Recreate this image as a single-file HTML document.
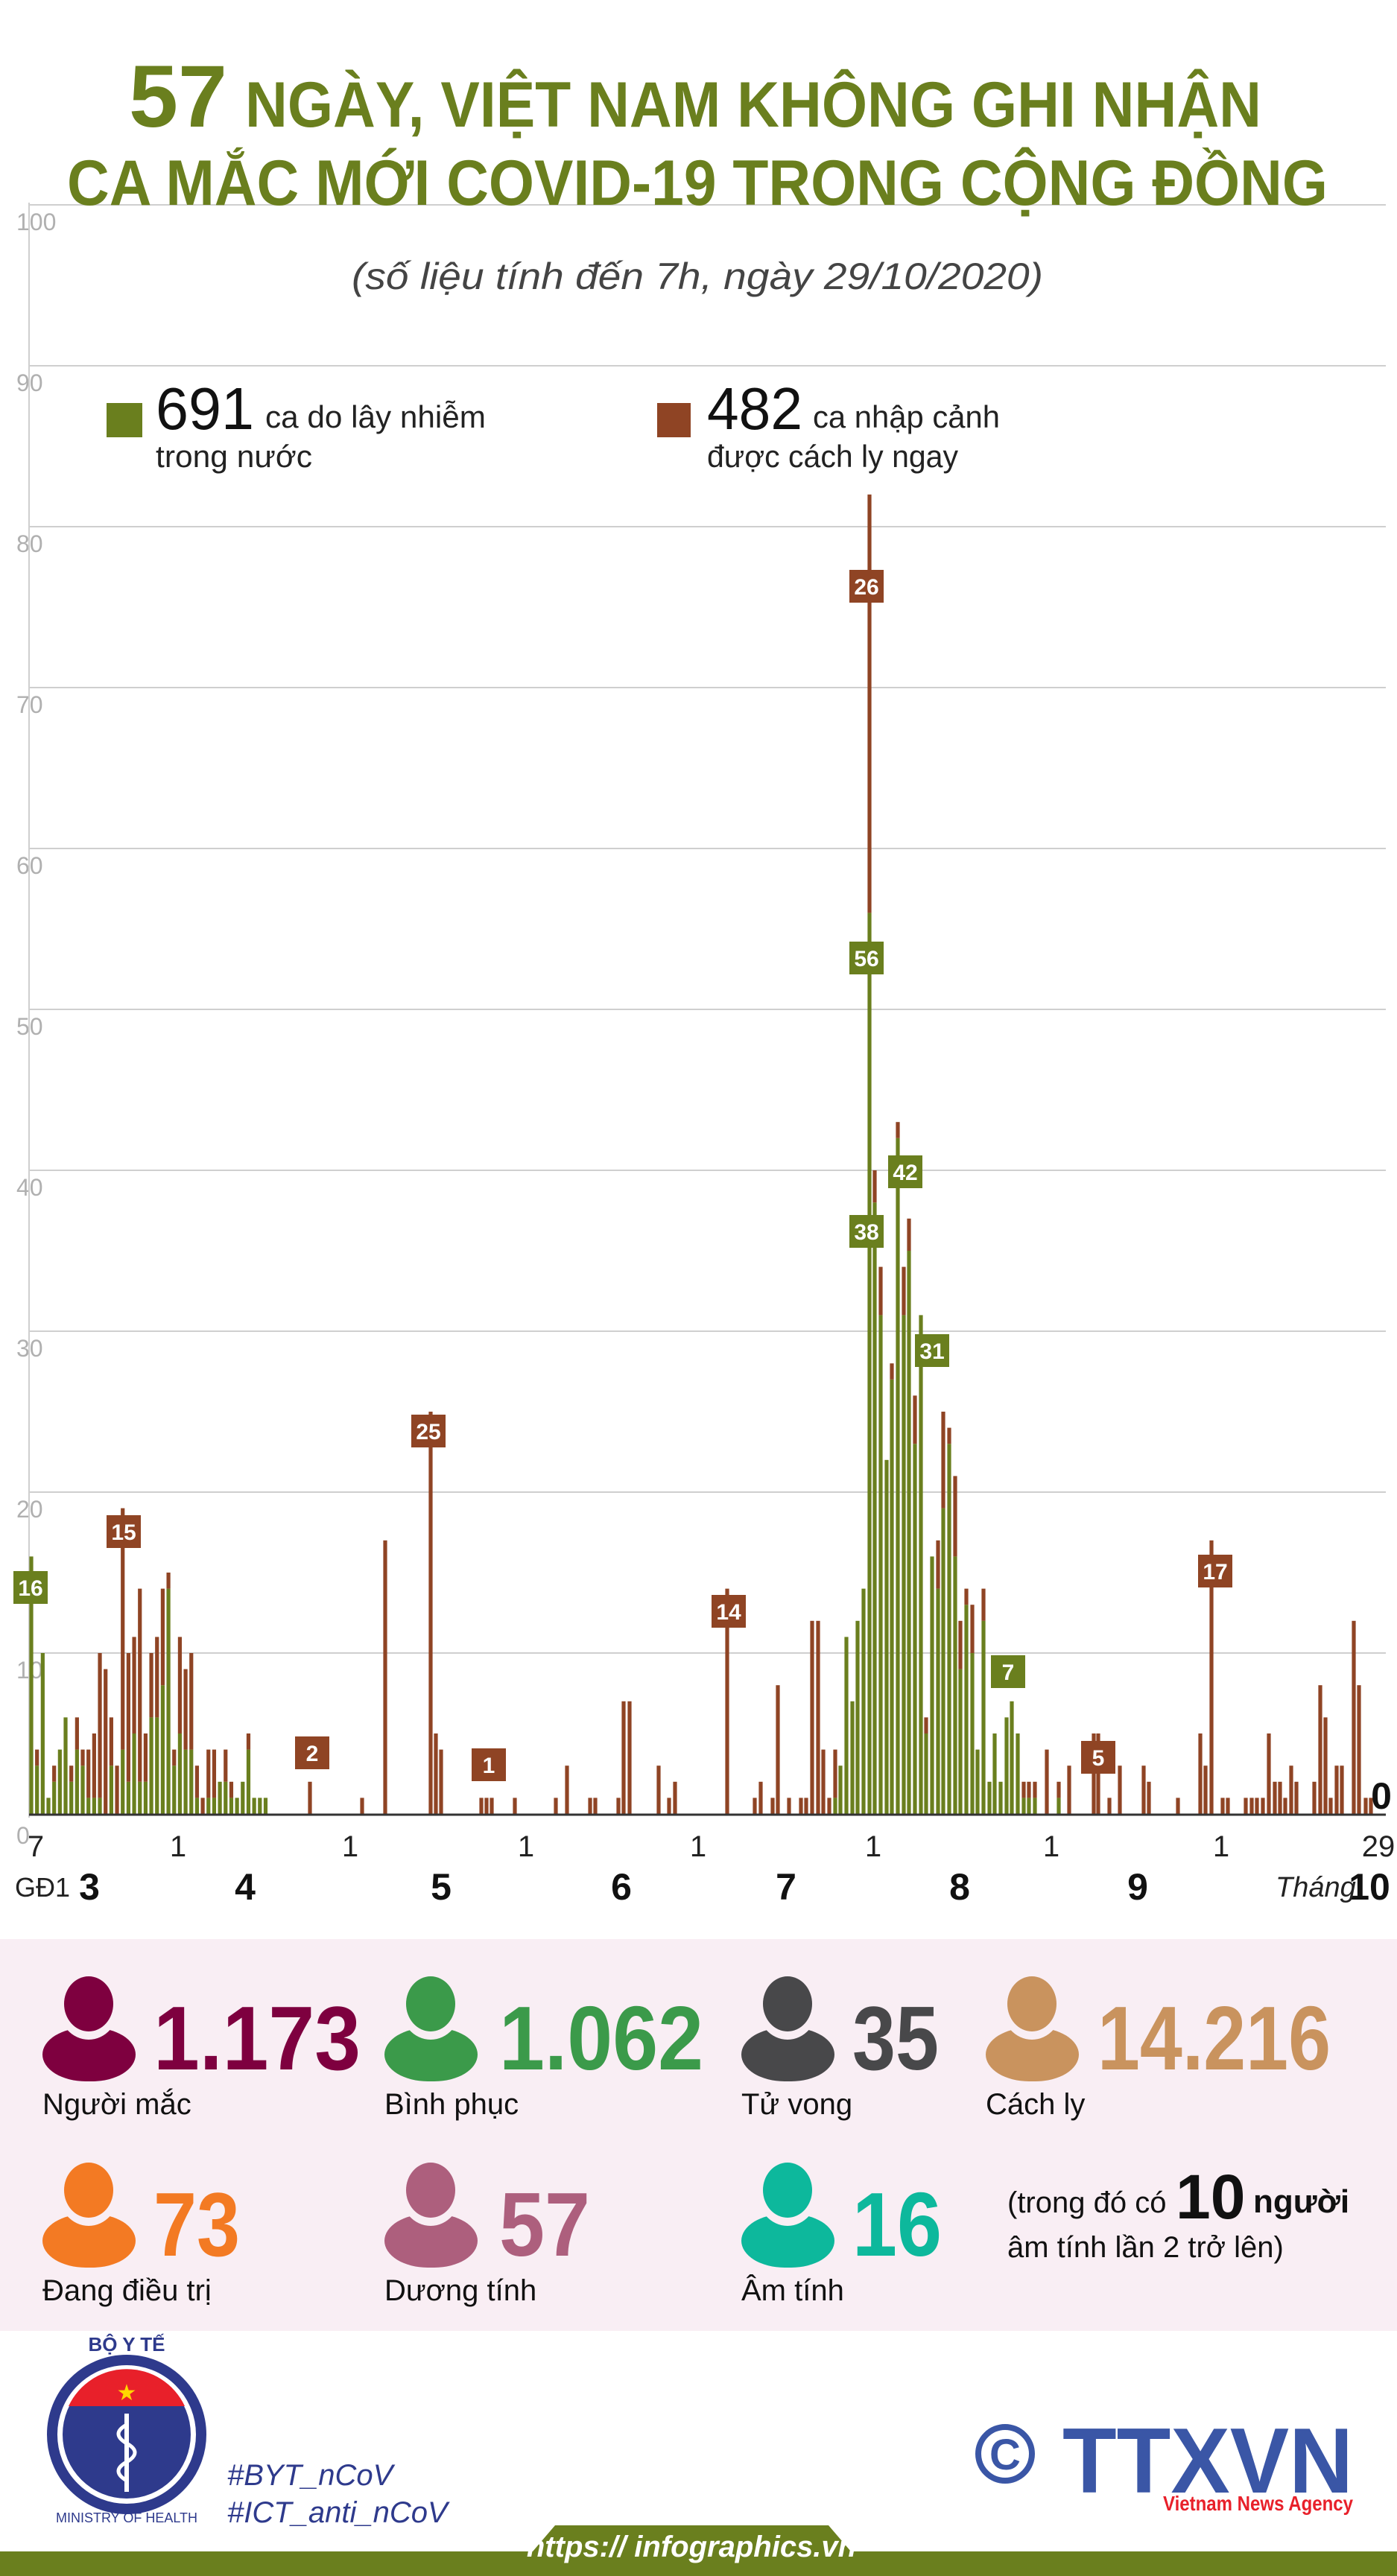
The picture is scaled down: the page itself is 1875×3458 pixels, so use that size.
<!DOCTYPE html>
<html><head><meta charset="utf-8"><style>
html,body{margin:0;padding:0;background:#fff;}
svg{display:block;}
text{font-family:"Liberation Sans","DejaVu Sans",sans-serif;}
</style></head><body>
<svg id="s" width="1875" height="3458" viewBox="0 0 1875 3458" xmlns="http://www.w3.org/2000/svg">
<rect width="1875" height="3458" fill="#fff"/>
<!-- grid -->
<g id="grid" stroke="#cfcfcf" stroke-width="2"></g>
<g id="ylab" fill="#b0b0b0" font-size="32"></g>
<line x1="39" y1="272" x2="39" y2="2440" stroke="#cfcfcf" stroke-width="2"/>
<!-- title -->
<text x="173" y="170" font-size="118" font-weight="bold" fill="#6a7f1e" textLength="132" lengthAdjust="spacingAndGlyphs">57</text>
<text x="329" y="170" font-size="86" font-weight="bold" fill="#6a7f1e" textLength="1364" lengthAdjust="spacingAndGlyphs">NGÀY, VIỆT NAM KHÔNG GHI NHẬN</text>
<text x="90" y="275" font-size="86" font-weight="bold" fill="#6a7f1e" textLength="1692" lengthAdjust="spacingAndGlyphs">CA MẮC MỚI COVID-19 TRONG CỘNG ĐỒNG</text>
<text x="472" y="388" font-size="50" font-style="italic" fill="#444" textLength="928" lengthAdjust="spacingAndGlyphs">(số liệu tính đến 7h, ngày 29/10/2020)</text>
<!-- legend -->
<rect x="143" y="541" width="48" height="46" fill="#6a7f1e"/>
<text x="209" y="576" font-size="80" fill="#111" textLength="132" lengthAdjust="spacingAndGlyphs">691</text>
<text x="356" y="574" font-size="42" fill="#222" textLength="296" lengthAdjust="spacingAndGlyphs">ca do lây nhiễm</text>
<text x="209" y="627" font-size="42" fill="#222" textLength="210" lengthAdjust="spacingAndGlyphs">trong nước</text>
<rect x="882" y="541" width="45" height="46" fill="#8f4424"/>
<text x="949" y="576" font-size="80" fill="#111" textLength="128" lengthAdjust="spacingAndGlyphs">482</text>
<text x="1091" y="574" font-size="42" fill="#222" textLength="251" lengthAdjust="spacingAndGlyphs">ca nhập cảnh</text>
<text x="949" y="627" font-size="42" fill="#222" textLength="337" lengthAdjust="spacingAndGlyphs">được cách ly ngay</text>
<g id="bars"></g>
<line x1="39" y1="2436" x2="1860" y2="2436" stroke="#333" stroke-width="3"/>
<g id="labels" font-weight="bold" font-size="30" fill="#fff" text-anchor="middle"></g>
<text x="1854" y="2428" font-size="50" font-weight="bold" fill="#111" text-anchor="middle">0</text>
<!-- x ticks -->
<g font-size="40" fill="#222" text-anchor="middle">
<text x="48" y="2492">7</text><text x="239" y="2492">1</text><text x="470" y="2492">1</text><text x="706" y="2492">1</text><text x="937" y="2492">1</text><text x="1172" y="2492">1</text><text x="1411" y="2492">1</text><text x="1639" y="2492">1</text><text x="1850" y="2492">29</text>
</g>
<g font-size="50" font-weight="bold" fill="#111" text-anchor="middle">
<text x="120" y="2550">3</text><text x="329" y="2550">4</text><text x="592" y="2550">5</text><text x="834" y="2550">6</text><text x="1055" y="2550">7</text><text x="1288" y="2550">8</text><text x="1527" y="2550">9</text><text x="1838" y="2550">10</text>
</g>
<text x="20" y="2546" font-size="36" fill="#222">GĐ1</text>
<text x="1712" y="2546" font-size="38" font-style="italic" fill="#222">Tháng</text>
<!-- stats -->
<rect x="0" y="2603" width="1875" height="526" fill="#f9eef4"/>
<g id="stats"></g>
<text x="1352" y="2970" font-size="40" fill="#111">(trong đó có</text>
<text x="1578" y="2978" font-size="84" font-weight="bold" fill="#111">10</text>
<text x="1682" y="2970" font-size="44" font-weight="bold" fill="#111">người</text>
<text x="1352" y="3030" font-size="40" fill="#111">âm tính lần 2 trở lên)</text>
<!-- footer -->
<g>
<circle cx="170" cy="3268" r="100" fill="none" stroke="#2e3a8c" stroke-width="14"/>
<circle cx="170" cy="3268" r="86" fill="#2e3a8c"/>
<path d="M92 3230 A86 86 0 0 1 248 3230 Z" fill="#e8202a"/>
<text x="170" y="3222" font-size="30" fill="#ffd700" text-anchor="middle">★</text>
<line x1="170" y1="3240" x2="170" y2="3345" stroke="#fff" stroke-width="6"/>
<path d="M170 3255 q-22 12 0 25 q22 12 0 25 q-22 12 0 25" fill="none" stroke="#fff" stroke-width="5"/>
<text x="170" y="3156" font-size="26" fill="#2e3a8c" text-anchor="middle" font-weight="bold">BỘ Y TẾ</text>
<text x="170" y="3386" font-size="18" fill="#2e3a8c" text-anchor="middle">MINISTRY OF HEALTH</text>
</g>
<text x="305" y="3336" font-size="40" font-style="italic" fill="#2e3a8c">#BYT_nCoV</text>
<text x="305" y="3386" font-size="40" font-style="italic" fill="#2e3a8c">#ICT_anti_nCoV</text>
<circle cx="1349" cy="3294" r="36" fill="none" stroke="#3a56a6" stroke-width="8"/>
<text x="1349" y="3315" font-size="58" font-weight="bold" fill="#3a56a6" text-anchor="middle">C</text>
<text x="1426" y="3346" font-size="124" font-weight="bold" fill="#3a56a6" textLength="390" lengthAdjust="spacingAndGlyphs">TTXVN</text>
<text x="1561" y="3370" font-size="28" font-weight="bold" fill="#e8202a" textLength="255" lengthAdjust="spacingAndGlyphs">Vietnam News Agency</text>
<rect x="0" y="3425" width="1875" height="33" fill="#6a7f1e"/>
<path d="M715 3425 L745 3390 L1112 3390 L1142 3425 Z" fill="#6a7f1e"/>
<text x="928" y="3432" font-size="40" font-style="italic" font-weight="bold" fill="#fff" text-anchor="middle">https:// infographics.vn</text>
</svg>
<script>
var NS="http://www.w3.org/2000/svg";
function el(p,t,a,txt){var e=document.createElementNS(NS,t);for(var k in a)e.setAttribute(k,a[k]);if(txt!=null)e.textContent=txt;document.getElementById(p).appendChild(e);return e;}
var B=2435,U=21.6,G="#6a7f1e",R="#8f4424";
for(var v=10;v<=100;v+=10){var y=B-v*U;el("grid","line",{x1:39,y1:y,x2:1860,y2:y});el("ylab","text",{x:22,y:y+34},String(v));}
el("ylab","text",{x:22,y:B+40},"0");
var A=[[16,0],[3,1],[10,0],[1,0],[2,1],[4,0],[6,0],[2,1],[4,2],[3,1],[1,3],[1,4],[1,9],[0,9],[3,3],[0,3],[4,15],[2,8],[5,6],[2,12],[2,3],[6,4],[6,5],[8,6],[14,1],[3,1],[5,6],[4,5],[4,6],[1,2],[0,1],[1,3],[1,3],[2,0],[2,2],[1,1],[1,0],[2,0],[4,1],[1,0],[1,0],[1,0]];
var D=[];A.forEach(function(a,i){D.push([42+7.67*i,a[0],a[1]]);});
var S=[416,0,2,486,0,1,517,0,17,578,0,25,585,0,5,592,0,4,646,0,1,653,0,1,660,0,1,691,0,1,746,0,1,761,0,3,792,0,1,799,0,1,830,0,1,837,0,7,845,0,7,884,0,3,898,0,1,906,0,2,976,0,14,1013,0,1,1021,0,2,1037,0,1,1044,0,8,1059,0,1,1075,0,1,1082,0,1,1090,0,12,1098,0,12,1105,0,4,1113,0,1,1121,1,3,1128,3,0,1136,11,0,1144,7,0,1151,12,0,1159,14,0,1167,56,26,1174,38,2,1182,31,3,1190,22,0,1197,27,1,1205,42,1,1213,31,3,1220,35,2,1228,23,3,1236,31,0,1243,5,1,1251,16,0,1259,14,3,1266,19,6,1274,23,1,1282,16,5,1289,9,3,1297,13,1,1305,10,3,1312,4,0,1320,12,2,1328,2,0,1335,5,0,1343,2,0,1351,6,0,1358,7,0,1366,5,0,1374,1,1,1381,1,1,1389,1,1,1405,0,4,1421,1,1,1435,0,3,1468,0,5,1474,0,5,1489,0,1,1503,0,3,1535,0,3,1542,0,2,1581,0,1,1611,0,5,1618,0,3,1626,0,17,1641,0,1,1648,0,1,1672,0,1,1680,0,1,1687,0,1,1695,0,1,1703,0,5,1711,0,2,1718,0,2,1725,0,1,1733,0,3,1740,0,2,1764,0,2,1772,0,8,1779,0,6,1786,0,1,1794,0,3,1801,0,3,1817,0,12,1824,0,8,1833,0,1,1840,0,1];
for(var i=0;i<S.length;i+=3)D.push([S[i],S[i+1],S[i+2]]);
D.forEach(function(d){var x=d[0]-2.6,g=d[1]*U,b=d[2]*U;
 if(g>0)el("bars","rect",{x:x,y:B-g,width:5.2,height:g,fill:G});
 if(b>0)el("bars","rect",{x:x,y:B-g-b,width:5.2,height:b,fill:R});});
var L=[[18,2109,G,"16"],[143,2034,R,"15"],[552,1899,R,"25"],[396,2331,R,"2"],[633,2347,R,"1"],[955,2141,R,"14"],[1140,765,R,"26"],[1140,1264,G,"56"],[1140,1631,G,"38"],[1192,1551,G,"42"],[1228,1791,G,"31"],[1330,2222,G,"7"],[1451,2337,R,"5"],[1608,2087,R,"17"]];
L.forEach(function(l){el("labels","rect",{x:l[0],y:l[1],width:46,height:44,fill:l[2]});el("labels","text",{x:l[0]+23,y:l[1]+33},l[3]);});
function person(x,y,c){var cx=x+62;
 el("stats","rect",{x:x,y:y+68,width:125,height:72,rx:58,ry:36,fill:c});
 el("stats","ellipse",{cx:cx,cy:y+38,rx:41,ry:46,fill:"#f9eef4"});
 el("stats","ellipse",{cx:cx,cy:y+36,rx:33,ry:37,fill:c});}
var ST=[[57,2654,"#7e003f","1.173","Người mắc",206],[516,2654,"#3b9a4a","1.062","Bình phục",670],[995,2654,"#48484a","35","Tử vong",1144],[1323,2654,"#c9935e","14.216","Cách ly",1473],
[57,2904,"#f37a23","73","Đang điều trị",206],[516,2904,"#ad5f7d","57","Dương tính",670],[995,2904,"#0db89c","16","Âm tính",1144]];
ST.forEach(function(s){person(s[0],s[1],s[2]);
 var t=el("stats","text",{x:s[5],y:s[1]+124,"font-size":122,"font-weight":"bold",fill:s[2]},s[3]);
 var w={"1.173":278,"1.062":274,"35":116,"14.216":313,"73":116,"57":122,"16":120}[s[3]];
 t.setAttribute("textLength",w);t.setAttribute("lengthAdjust","spacingAndGlyphs");
 el("stats","text",{x:s[0],y:s[1]+184,"font-size":40,fill:"#111"},s[4]);});
</script>
</body></html>
